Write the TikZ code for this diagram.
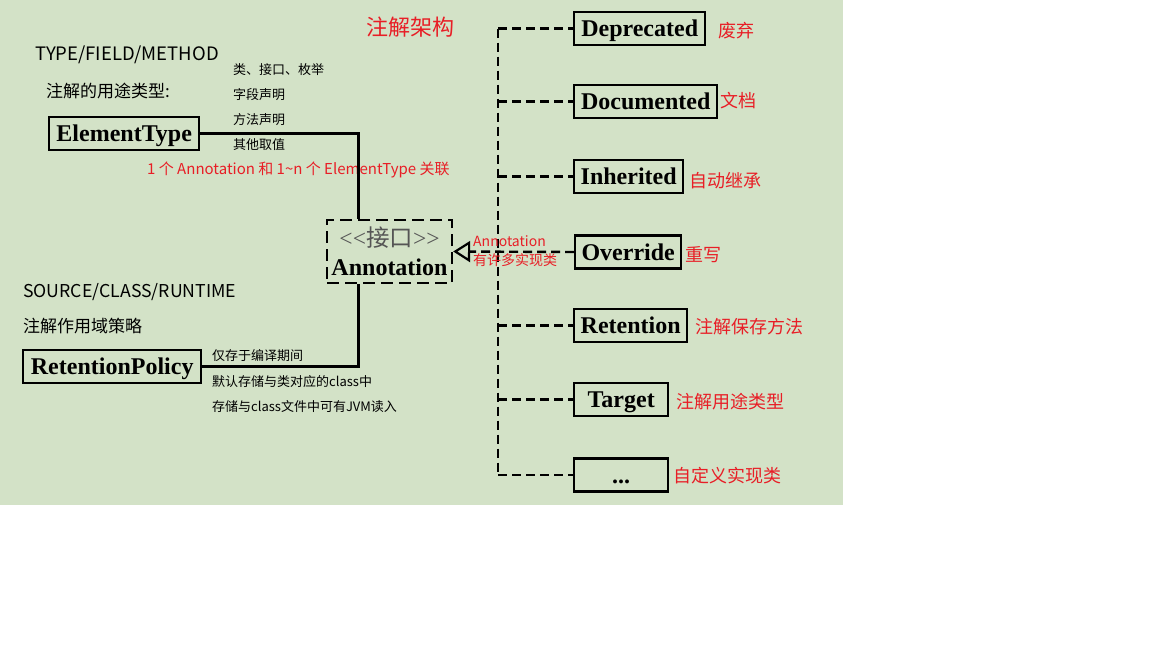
\documentclass[tikz,border=0pt]{standalone}
\usepackage{fontspec}
\setmainfont{Liberation Serif}
\newfontfamily\cjk{Noto Sans CJK SC}
\usetikzlibrary{arrows.meta, positioning}
\definecolor{bggreen}{RGB}{211,226,199}
\definecolor{notered}{RGB}{232,30,38}
\definecolor{stereogray}{RGB}{85,85,85}

\begin{document}
\begin{tikzpicture}[
    x=1pt, y=-1pt,
    box/.style={rectangle, draw, line width=2.4pt, inner sep=0pt, minimum height=33pt, text height=19pt, text depth=3pt, anchor=west, font=\fontsize{24}{26}\selectfont\bfseries},
    iface/.style={rectangle, draw, dash pattern=on 12pt off 6pt, line width=2.4pt, inner sep=0pt, minimum width=125pt, minimum height=63pt, align=center, font=\fontsize{24}{29}\selectfont},
    note/.style={anchor=west, inner sep=0pt, font=\cjk\fontsize{13}{15}\selectfont},
    caption/.style={anchor=west, inner sep=0pt, font=\cjk\fontsize{17}{19}\selectfont},
    remark/.style={anchor=west, inner sep=0pt, text=notered, font=\cjk\fontsize{18}{20}\selectfont},
    assoc/.style={anchor=west, inner sep=0pt, text=notered, font=\cjk\fontsize{15}{17}\selectfont},
    link/.style={line width=2.4pt},
    dashline/.style={line width=2.4pt, dash pattern=on 9pt off 5pt},
    realize/.style={dashline, -{Triangle[open, length=17pt, width=21pt, line width=2.2pt]}}
]
    \useasboundingbox (0,0) rectangle (1152,648);
    \fill[bggreen] (0,0) rectangle (843,505);

    \node[text=notered, font=\cjk\fontsize{22}{24}\selectfont] (title) at (410,27) {注解架构};

    % left side
    \node[caption, font=\cjk\fontsize{18.5}{20}\selectfont] (elemcaption) at (35,55) {TYPE/FIELD/METHOD};
    \node[caption] (elemuse) at (46,91) {注解的用途类型:};
    \node[box, minimum width=150pt] (elementtype) at (48,133.5) {ElementType};
    \node[note] (elemA) at (233,70) {类、接口、枚举};
    \node[note] (elemB) at (233,95) {字段声明};
    \node[note] (elemC) at (233,120) {方法声明};
    \node[note] (elemD) at (233,145) {其他取值};
    \node[assoc] (elemassoc) at (147,170) {1 个 Annotation 和 1\textasciitilde n 个 ElementType 关联};

    \node[caption, font=\cjk\fontsize{17.7}{20}\selectfont] (retcaption) at (23,292) {SOURCE/CLASS/RUNTIME};
    \node[caption] (retuse) at (23,326) {注解作用域策略};
    \node[box, minimum width=178pt] (retpolicy) at (22,366.5) {RetentionPolicy};
    \node[note] (retA) at (212,356) {仅存于编译期间};
    \node[note] (retB) at (212,382) {默认存储与类对应的class中};
    \node[note] (retC) at (212,407) {存储与class文件中可有JVM读入};

    % interface
    \node[iface] (annotation) at (389.5,251.5) {{\color{stereogray}\fontsize{23.5}{29}\selectfont <{}<{\cjk 接口}>{}>}\\{\bfseries Annotation}};
    \draw[link] (elementtype.east) -| ([xshift=-31pt]annotation.north);
    \draw[link] ([xshift=-31pt]annotation.south) |- (retpolicy.east);

    % implementations
    \coordinate (bus) at (498,0);
    \node[box, minimum width=131pt] (deprecated) at (573,28.5) {Deprecated};
    \node[box, minimum width=143pt] (documented) at (573,101.5) {Documented};
    \node[box, minimum width=109pt] (inherited) at (573,176.5) {Inherited};
    \node[box, minimum width=106pt] (override) at (574,252) {Override};
    \node[box, minimum width=113pt] (retention) at (573,325.5) {Retention};
    \node[box, minimum width=94pt] (target) at (573,399.5) {Target};
    \node[box, minimum width=94pt] (custom) at (573,475) {...};

    \node[remark] at (718,31) {废弃};
    \node[remark] at (720,101) {文档};
    \node[remark] at (689,181) {自动继承};
    \node[remark] at (685,255) {重写};
    \node[remark] at (695,327) {注解保存方法};
    \node[remark] at (676,402) {注解用途类型};
    \node[remark] at (673,476) {自定义实现类};

    \draw[dashline] (bus |- deprecated.west) -- (bus |- custom.west);
    \foreach \impl in {deprecated, documented, inherited, retention, target, custom}
        \draw[dashline] (bus |- \impl.west) -- (\impl.west);
    \draw[realize] (override.west) -- (annotation.east);
    \node[assoc, font=\cjk\fontsize{14}{19}\selectfont, align=left] (implnote) at (473,251) {Annotation\\有许多实现类};
\end{tikzpicture}
\end{document}
